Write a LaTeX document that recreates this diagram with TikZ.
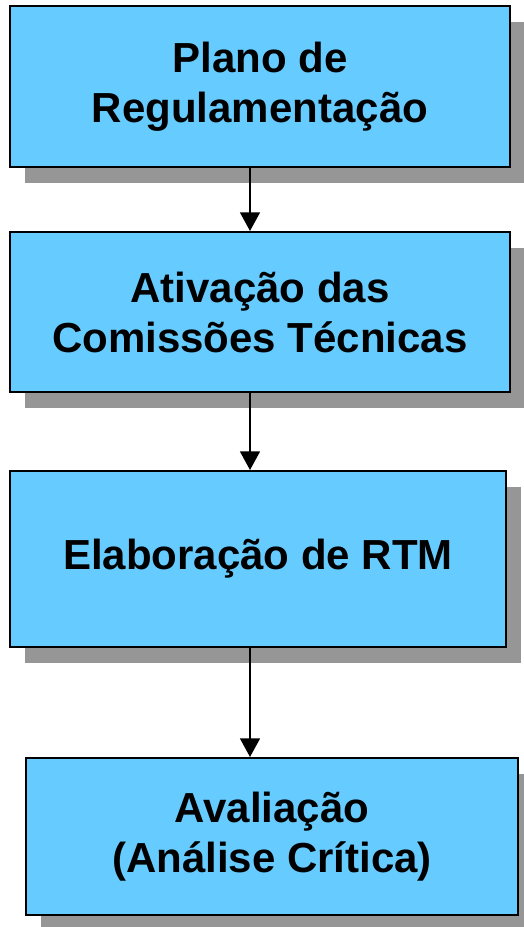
\documentclass[tikz,border=0pt]{standalone}
\usepackage{fontspec}
\setmainfont{Liberation Sans}
\usetikzlibrary{arrows.meta,shadows}

\definecolor{caixa}{HTML}{66CCFF}
\definecolor{sombra}{HTML}{969696}

\tikzset{
  etapa/.style={draw=black, line width=1.5pt, fill=caixa, align=center,
    inner sep=0pt, font=\fontsize{31.5}{37.5}\selectfont\bfseries,
    drop shadow={shadow xshift=11.25pt, shadow yshift=-12pt, fill=sombra, opacity=1}},
  seta/.style={line width=1.1pt, -{Triangle[length=14pt,width=15pt]}}
}

\begin{document}
\begin{tikzpicture}[x=0.75pt, y=0.75pt]
        \useasboundingbox (0,0) rectangle (524,927);

        % etapas
        \node[etapa, minimum width=375pt, minimum height=120.75pt] (plano) at (260,840.5)
          {Plano de\\Regulamentação};
        \node[etapa, minimum width=375pt, minimum height=120pt] (ativ) at (260,615)
          {Ativação das\\Comissões Técnicas};
        \node[etapa, minimum width=372pt, minimum height=132pt] (elab) at (258,368)
          {Elaboração de RTM};
        \node[etapa, minimum width=369pt, minimum height=117.75pt] (aval) at (272,90.5)
          {Avaliação\\(Análise Crítica)};

        % setas
        \coordinate (eixo) at (250,0);
        \draw[seta] (plano.south -| eixo) -- (ativ.north -| eixo);
        \draw[seta] (ativ.south -| eixo) -- (elab.north -| eixo);
        \draw[seta] (elab.south -| eixo) -- (aval.north -| eixo);
      \end{tikzpicture}
\end{document}
